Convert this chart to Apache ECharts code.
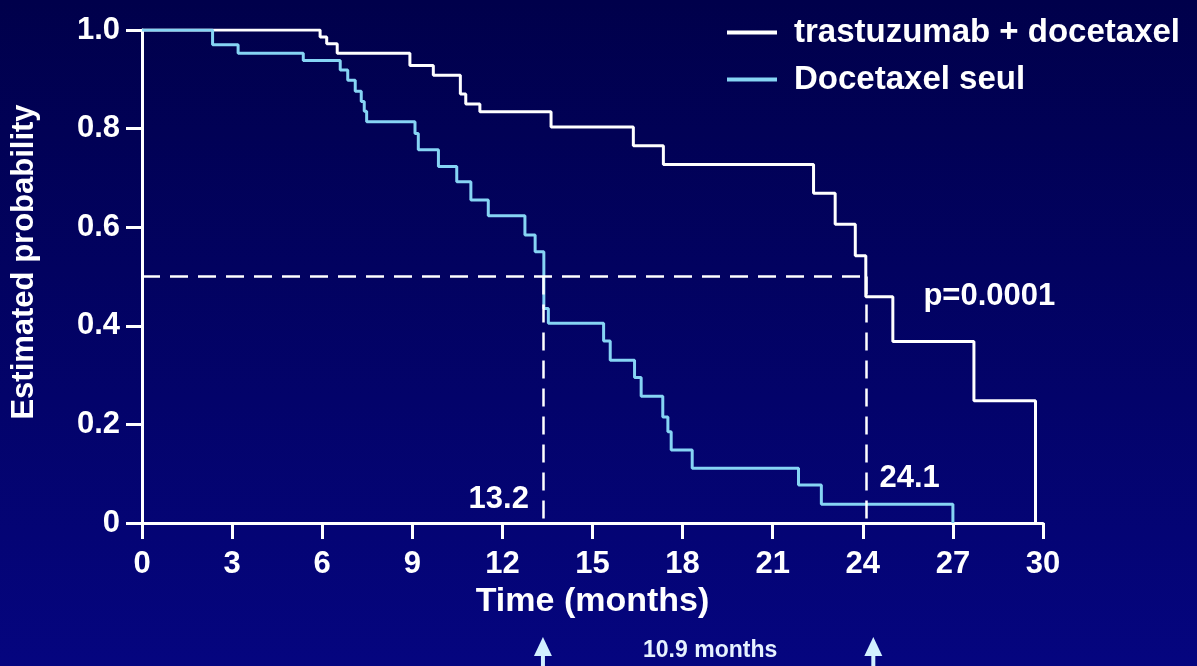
<!DOCTYPE html>
<html>
<head>
<meta charset="utf-8">
<script src="https://cdn.jsdelivr.net/npm/echarts@6/dist/echarts.min.js"></script>
<style>
html,body{margin:0;padding:0;width:1197px;height:666px;overflow:hidden;background:#00004d;}
#chart{width:1197px;height:666px;}
</style>
</head>
<body>
<div id="chart"></div>
<script>
// ---- data ----
const seriesNames = ['trastuzumab + docetaxel', 'Docetaxel seul'];

const comboTimes = [0, 5.93, 6.15, 6.5, 8.92, 9.7, 10.6, 10.78, 11.25, 13.62, 16.36, 17.36, 22.36, 23.08, 23.75, 24.1, 25.0, 27.7, 29.75];
const comboSurv  = [1.0, 0.986, 0.972, 0.953, 0.928, 0.908, 0.870, 0.850, 0.834, 0.803, 0.765, 0.727, 0.669, 0.606, 0.542, 0.459, 0.368, 0.248, 0];

const monoTimes = [0, 2.35, 3.2, 5.37, 6.6, 6.85, 7.1, 7.3, 7.4, 7.48, 9.09, 9.2, 9.87, 10.48, 10.95, 11.53, 12.75, 13.09, 13.38, 13.53, 15.37, 15.59, 16.4, 16.62, 17.34, 17.51, 17.62, 18.32, 21.86, 22.62, 27.0];
const monoSurv  = [1.0, 0.970, 0.953, 0.938, 0.919, 0.898, 0.876, 0.855, 0.835, 0.814, 0.790, 0.757, 0.723, 0.692, 0.655, 0.623, 0.584, 0.550, 0.435, 0.405, 0.369, 0.330, 0.295, 0.257, 0.215, 0.185, 0.148, 0.111, 0.077, 0.038, 0];

const xTickLabels = ['0', '3', '6', '9', '12', '15', '18', '21', '24', '27', '30'];
const yTickLabels = ['0', '0.2', '0.4', '0.6', '0.8', '1.0'];

const medianLevel = 0.5;
const medianTimes = [13.35, 24.12];         // where the dashed drop lines sit
const medianLabels = ['13.2', '24.1'];
const arrowTimes = [13.35, 24.35];          // the two arrows under the axis
const pValueText = 'p=0.0001';
const diffText = '10.9 months';
const xTitle = 'Time (months)';
const yTitle = 'Estimated probability';

// ---- build ----
const FONT = '"Liberation Sans", Arial, sans-serif';
const WHITE = '#ffffff';
const CYAN = '#86d4f4';
const toPairs = (t, s) => t.map((v, i) => [v, s[i]]);

const chart = echarts.init(document.getElementById('chart'));

const axisCommon = {
  axisLine: { show: true, lineStyle: { color: WHITE, width: 3 } },
  axisTick: { show: true, inside: false, length: 16, lineStyle: { color: WHITE, width: 3 } },
  splitLine: { show: false },
  axisLabel: { color: WHITE, fontFamily: FONT, fontWeight: 'bold', fontSize: 31 }
};

const option = {
  backgroundColor: {
    type: 'linear', x: 0, y: 0, x2: 0, y2: 1,
    colorStops: [{ offset: 0, color: '#00004b' }, { offset: 1, color: '#05057f' }]
  },
  animation: false,
  grid: { left: 142, right: 154, top: 30, bottom: 143 },
  legend: {
    orient: 'vertical',
    left: 722, top: 9,
    itemWidth: 50, itemHeight: 4, itemGap: 10,
    icon: 'rect',
    textStyle: { color: WHITE, fontFamily: FONT, fontWeight: 'bold', fontSize: 33, lineHeight: 37, padding: [0, 0, 0, 12] },
    data: seriesNames
  },
  xAxis: Object.assign({}, axisCommon, {
    type: 'value', min: 0, max: 30, interval: 3,
    name: xTitle, nameLocation: 'middle', nameGap: 60,
    nameTextStyle: { color: WHITE, fontFamily: FONT, fontWeight: 'bold', fontSize: 34 },
    axisLabel: Object.assign({}, axisCommon.axisLabel, {
      margin: 26,
      formatter: v => xTickLabels[Math.round(v / 3)]
    })
  }),
  yAxis: Object.assign({}, axisCommon, {
    type: 'value', min: 0, max: 1, interval: 0.2,
    axisLabel: Object.assign({}, axisCommon.axisLabel, {
      margin: 22,
      formatter: v => yTickLabels[Math.round(v / 0.2)]
    })
  }),
  series: [
    {
      name: seriesNames[0], type: 'line', step: 'end', showSymbol: false, symbol: 'none',
      data: toPairs(comboTimes, comboSurv),
      itemStyle: { color: WHITE },
      lineStyle: { color: WHITE, width: 3 },
      z: 3,
      markLine: {
        silent: true, symbol: 'none', label: { show: false },
        lineStyle: { color: WHITE, type: [18, 10], width: 2.5 },
        data: [
          [{ coord: [0, medianLevel] }, { coord: [medianTimes[1], medianLevel] }],
          [{ coord: [medianTimes[0], medianLevel] }, { coord: [medianTimes[0], 0] }],
          [{ coord: [medianTimes[1], medianLevel] }, { coord: [medianTimes[1], 0] }]
        ]
      }
    },
    {
      name: seriesNames[1], type: 'line', step: 'end', showSymbol: false, symbol: 'none',
      data: toPairs(monoTimes, monoSurv),
      itemStyle: { color: CYAN },
      lineStyle: { color: CYAN, width: 3 },
      z: 4
    }
  ]
};
chart.setOption(option);

// annotations positioned from the data coordinates
const p13 = chart.convertToPixel({ gridIndex: 0 }, [medianTimes[0], 0.047]);
const p24 = chart.convertToPixel({ gridIndex: 0 }, [medianTimes[1], 0.09]);
const pP  = chart.convertToPixel({ gridIndex: 0 }, [medianTimes[1], 0.46]);
const a1 = chart.convertToPixel({ gridIndex: 0 }, [arrowTimes[0], 0])[0];
const a2 = chart.convertToPixel({ gridIndex: 0 }, [arrowTimes[1], 0])[0];
const textFont = 'bold 31px ' + FONT;
const arrowColor = '#d2f0ff';
function arrow(x) {
  return [
    { type: 'polygon', shape: { points: [[x - 9, 656], [x + 9, 656], [x, 637]] }, style: { fill: arrowColor } },
    { type: 'rect', shape: { x: x - 2, y: 654, width: 4, height: 14 }, style: { fill: arrowColor } }
  ];
}
chart.setOption({
  graphic: [
    { type: 'text', x: 24, y: 262, rotation: Math.PI / 2,
      style: { text: yTitle, font: textFont, fill: WHITE, align: 'center', verticalAlign: 'middle', textAlign: 'center', textVerticalAlign: 'middle' } },
    { type: 'text', x: p13[0] - 14, y: p13[1],
      style: { text: medianLabels[0], font: textFont, fill: WHITE, align: 'right', verticalAlign: 'middle', textAlign: 'right', textVerticalAlign: 'middle' } },
    { type: 'text', x: p24[0] + 13, y: p24[1],
      style: { text: medianLabels[1], font: textFont, fill: WHITE, align: 'left', verticalAlign: 'middle', textAlign: 'left', textVerticalAlign: 'middle' } },
    { type: 'text', x: pP[0] + 57, y: pP[1],
      style: { text: pValueText, font: textFont, fill: WHITE, align: 'left', verticalAlign: 'middle', textAlign: 'left', textVerticalAlign: 'middle' } },
    { type: 'text', x: (a1 + a2) / 2 + 2, y: 651,
      style: { text: diffText, font: 'bold 23px ' + FONT, fill: '#e6f2ff', align: 'center', verticalAlign: 'middle', textAlign: 'center', textVerticalAlign: 'middle' } }
  ].concat(arrow(a1), arrow(a2))
});
</script>
</body>
</html>
